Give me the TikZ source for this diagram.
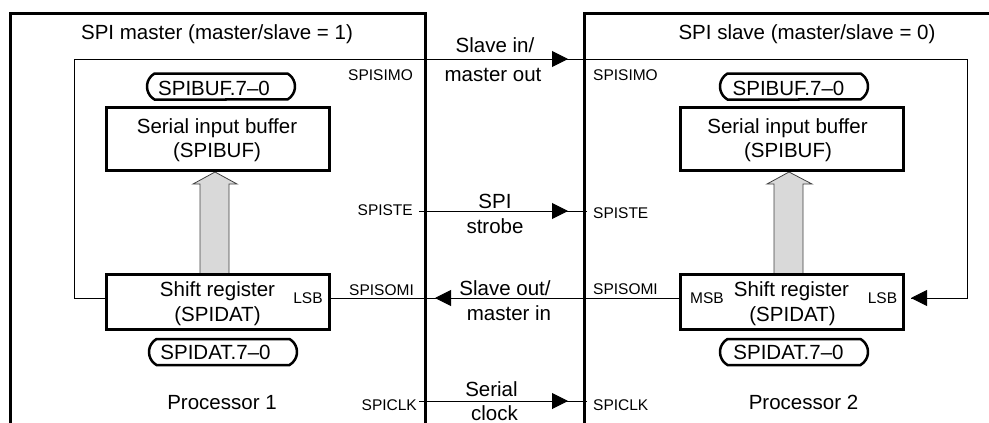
\documentclass[tikz,border=0pt]{standalone}
\usepackage{fontspec}
\setmainfont{Liberation Sans}
\usetikzlibrary{arrows.meta,shapes.misc}
\begin{document}
\begin{tikzpicture}[x=1pt,y=-1pt,
  outer/.style={line width=3pt},
  wire/.style={line width=1pt},
  regbox/.style={draw,line width=3pt,minimum width=223pt,inner sep=0pt},
  pill/.style={draw,line width=2.5pt,rounded rectangle,rounded rectangle arc length=120,minimum width=148pt,minimum height=26pt,inner sep=0pt},
  big/.style={font=\fontsize{20.5}{25}\selectfont,inner sep=0pt},
  small/.style={font=\fontsize{15.5}{18}\selectfont,inner sep=0pt},
  tipend/.style={-{Triangle[length=16pt,width=16pt]}},
  grayarrow/.style={draw=black!75,line width=0.8pt,fill=black!15,line join=miter}
]
\useasboundingbox (0,0) rectangle (989,423);

% gray transfer arrows (drawn first so the box borders cover their ends)
\draw[grayarrow] (200,273) -- (200,184) -- (193,184) -- (215,172) -- (237,184) -- (229,184) -- (229,273);
\draw[grayarrow] (774,273) -- (774,184) -- (767,184) -- (789,172) -- (812,184) -- (803,184) -- (803,273);

% outer processor frames
\draw[outer] (10,423) -- (10,13) -- (425,13) -- (425,423);
\draw[outer] (989,13) -- (584,13) -- (584,423);

% register boxes
\node[regbox,minimum height=63pt] (buf1) at (217.5,139) {};
\node[regbox,minimum height=55pt] (sr1) at (218,302) {};
\node[regbox,minimum height=63pt] (buf2) at (792,139) {};
\node[regbox,minimum height=55pt] (sr2) at (791.5,302) {};

\node[pill] (p1) at (221,86.5) {};
\node[pill] (p2) at (794,86.5) {};
\node[pill] (p3) at (223,352) {};
\node[pill] (p4) at (794,352) {};

\coordinate (ly) at (0,298);
\coordinate (simoL) at (74,59);
\coordinate (simoR) at (967,59);
\coordinate (lsbtip) at (911,298);

% SIMO loop
\draw[wire] (sr1.west |- ly) -| (simoL) -- (simoR) |- (lsbtip);
\draw[wire,tipend] (930,298) -- (lsbtip);
\draw[wire,tipend] (500,59) -- (568,59);
% SOMI
\draw[wire] (sr2.west |- ly) -- (sr1.east |- ly);
\draw[wire,tipend] (500,298) -- (435,298);
% STE
\coordinate (steA) at (419,211);
\coordinate (steB) at (587,211);
\draw[wire] (steA) -- (steB);
\draw[wire,tipend] (500,211) -- (568,211);
% CLK
\coordinate (clkA) at (419,401);
\coordinate (clkB) at (587,401);
\draw[wire] (clkA) -- (clkB);
\draw[wire,tipend] (500,401) -- (568,401);

% titles
\node[big,anchor=base] (t1) at (217,39) {SPI master (master/slave = 1)};
\node[big,anchor=base] (t2) at (807,39) {SPI slave (master/slave = 0)};

% pill texts
\node[big,anchor=base] (pt1) at (214,95) {SPIBUF.7–0};
\node[big,anchor=base] (pt2) at (788.5,95) {SPIBUF.7–0};
\node[big,anchor=base] (pt3) at (215.5,359) {SPIDAT.7–0};
\node[big,anchor=base] (pt4) at (788.5,359) {SPIDAT.7–0};

% box texts
\node[big,anchor=base] (b1a) at (217,133) {Serial input buffer};
\node[big,anchor=base] (b1b) at (217,157) {(SPIBUF)};
\node[big,anchor=base] (b2a) at (787.5,133) {Serial input buffer};
\node[big,anchor=base] (b2b) at (788,157) {(SPIBUF)};
\node[big,anchor=base] (s1a) at (217.5,296) {Shift register};
\node[big,anchor=base] (s1b) at (217.5,321) {(SPIDAT)};
\node[big,anchor=base] (s2a) at (791.5,296) {Shift register};
\node[big,anchor=base] (s2b) at (792.5,321) {(SPIDAT)};
\node[small,anchor=base] (lsb1) at (308,303) {LSB};
\node[small,anchor=base] (msb2) at (707,303) {MSB};
\node[small,anchor=base] (lsb2) at (882.5,303) {LSB};

\node[big,anchor=base] (proc1) at (222,409) {Processor 1};
\node[big,anchor=base] (proc2) at (803.5,409) {Processor 2};

% pin labels
\node[small,anchor=base east] (l1) at (413,80) {SPISIMO};
\node[small,anchor=base east] (l2) at (413,215) {SPISTE};
\node[small,anchor=base east] (l3) at (414,295) {SPISOMI};
\node[small,anchor=base east] (l4) at (417,410) {SPICLK};
\node[small,anchor=base west] (r1) at (593,80) {SPISIMO};
\node[small,anchor=base west] (r2) at (593,218) {SPISTE};
\node[small,anchor=base west] (r3) at (593,294) {SPISOMI};
\node[small,anchor=base west] (r4) at (593,410) {SPICLK};

% signal names
\node[big,anchor=base] (m1a) at (495,52) {Slave in/};
\node[big,anchor=base] (m1b) at (493,81) {master out};
\node[big,anchor=base] (m2a) at (495,208) {SPI};
\node[big,anchor=base] (m2b) at (495,233) {strobe};
\node[big,anchor=base] (m3a) at (505,295) {Slave out/};
\node[big,anchor=base] (m3b) at (509,320) {master in};
\node[big,anchor=base] (m4a) at (491.5,396) {Serial};
\node[big,anchor=base] (m4b) at (494.5,420) {clock};
\end{tikzpicture}
\end{document}
